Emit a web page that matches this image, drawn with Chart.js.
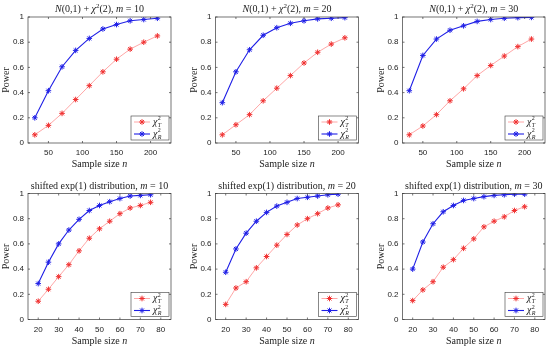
<!DOCTYPE html>
<html>
<head>
<meta charset="utf-8">
<script src="https://cdn.jsdelivr.net/npm/chart.js@4.4.0/dist/chart.umd.min.js"></script>
<style>
    html, body { margin: 0; padding: 0; background: #fff; }
    #fig { position: relative; width: 550px; height: 348px; background: #fff; }
    #fig canvas { position: absolute; left: 0; top: 0; }
</style>
</head>
<body>
<div id="fig">
    <canvas id="c1" width="550" height="348"></canvas>
    <canvas id="c2" width="550" height="348"></canvas>
    <canvas id="c3" width="550" height="348"></canvas>
    <canvas id="c4" width="550" height="348"></canvas>
    <canvas id="c5" width="550" height="348"></canvas>
    <canvas id="c6" width="550" height="348"></canvas>
</div>
<script>
// ============================================
// Datos
// ============================================

// tamaños de muestra
const SIZES_NORMAL = [30, 50, 70, 90, 110, 130, 150, 170, 190, 210];
const SIZES_EXP = [20, 25, 30, 35, 40, 45, 50, 55, 60, 65, 70, 75];

// ticks de los ejes
const XTICKS_NORMAL = [50, 100, 150, 200];
const XTICKS_EXP = [20, 30, 40, 50, 60, 70, 80];
const YTICKS_POWER = [0, 0.2, 0.4, 0.6, 0.8, 1];

// N(0,1) + chi2(2)
const NORMAL_M10_T = [0.065, 0.14, 0.235, 0.345, 0.455, 0.565, 0.665, 0.745, 0.80, 0.85];
const NORMAL_M10_R = [0.20, 0.415, 0.605, 0.735, 0.83, 0.905, 0.94, 0.97, 0.98, 0.99];
const NORMAL_M20_T = [0.065, 0.145, 0.225, 0.335, 0.435, 0.535, 0.635, 0.72, 0.785, 0.835];
const NORMAL_M20_R = [0.32, 0.565, 0.74, 0.855, 0.915, 0.95, 0.97, 0.985, 0.99, 0.995];
const NORMAL_M30_T = [0.065, 0.135, 0.225, 0.335, 0.43, 0.535, 0.615, 0.69, 0.765, 0.825];
const NORMAL_M30_R = [0.415, 0.695, 0.825, 0.895, 0.93, 0.965, 0.98, 0.99, 0.995, 0.997];

// shifted exp(1)
const EXP_M10_T = [0.145, 0.24, 0.34, 0.435, 0.545, 0.645, 0.72, 0.78, 0.84, 0.885, 0.905, 0.93];
const EXP_M10_R = [0.285, 0.455, 0.60, 0.71, 0.795, 0.865, 0.905, 0.935, 0.96, 0.98, 0.985, 0.99];
const EXP_M20_T = [0.12, 0.25, 0.30, 0.41, 0.50, 0.59, 0.675, 0.75, 0.80, 0.84, 0.885, 0.91];
const EXP_M20_R = [0.375, 0.56, 0.685, 0.78, 0.85, 0.90, 0.93, 0.96, 0.97, 0.98, 0.99, 0.995];
const EXP_M30_T = [0.15, 0.235, 0.30, 0.415, 0.475, 0.565, 0.64, 0.735, 0.78, 0.815, 0.865, 0.895];
const EXP_M30_R = [0.40, 0.615, 0.76, 0.855, 0.905, 0.945, 0.96, 0.975, 0.985, 0.99, 0.995, 0.995];

// ============================================
// Estilo y disposición
// ============================================

const COLORS = {
    redLine: 'rgba(255, 60, 60, 0.45)',
    redMark: '#f03030',
    blueLine: '#1f1fe6',
    blueMark: '#1f1fe6',
    axis: '#3a3a3a',
    text: '#222'
};

const SERIF = '"Liberation Serif", "Times New Roman", serif';
const SANS = '"Liberation Sans", Arial, sans-serif';

const FIG_W = 550, FIG_H = 348;
const PLOT_W = 143, PLOT_H = 126;
const Y_AXIS_W = 24, X_AXIS_H = 16;

// ============================================
// Texto con cursiva / superíndice
// ============================================

function partFont(p, size) {
    const s = (p.sup || p.sub) ? size * 0.7 : size;
    return (p.i ? 'italic ' : '') + s + 'px ' + SERIF;
}

function drawRich(ctx, parts, x, y, size) {
    let w = 0;
    parts.forEach(p => { ctx.font = partFont(p, size); p.w = ctx.measureText(p.t).width; w += p.w; });
    let cx = x - w / 2;
    ctx.textAlign = 'left';
    ctx.textBaseline = 'alphabetic';
    parts.forEach(p => {
        ctx.font = partFont(p, size);
        const dy = p.sup ? -size * 0.38 : (p.sub ? size * 0.22 : 0);
        ctx.fillText(p.t, cx, y + dy);
        cx += p.w;
    });
}

// χ con superíndice 2 y subíndice
function drawChiLabel(ctx, sub, x, y) {
    ctx.textAlign = 'left';
    ctx.textBaseline = 'middle';
    ctx.font = 'italic 10px ' + SERIF;
    ctx.fillText('χ', x, y);
    const w = ctx.measureText('χ').width;
    ctx.font = '6px ' + SERIF;
    ctx.fillText('2', x + w + 0.3, y - 3.5);
    ctx.font = 'italic 6px ' + SERIF;
    ctx.fillText(sub, x + w + 0.3, y + 3);
}

// ============================================
// Plugin: caja, ticks internos, títulos y leyenda estilo MATLAB
// ============================================

const matlabAxes = {
    id: 'matlabAxes',
    afterDraw(chart, args, opts) {
        const ctx = chart.ctx;
        const a = chart.chartArea;
        const xs = chart.scales.x, ys = chart.scales.y;
        ctx.save();

        // caja
        ctx.strokeStyle = COLORS.axis;
        ctx.lineWidth = 0.7;
        ctx.strokeRect(a.left, a.top, a.right - a.left, a.bottom - a.top);

        // ticks hacia dentro
        ctx.beginPath();
        xs.ticks.forEach(t => {
            const px = xs.getPixelForValue(t.value);
            ctx.moveTo(px, a.bottom); ctx.lineTo(px, a.bottom - 2);
            ctx.moveTo(px, a.top); ctx.lineTo(px, a.top + 2);
        });
        ys.ticks.forEach(t => {
            const py = ys.getPixelForValue(t.value);
            ctx.moveTo(a.left, py); ctx.lineTo(a.left + 2, py);
            ctx.moveTo(a.right, py); ctx.lineTo(a.right - 2, py);
        });
        ctx.stroke();

        // título
        ctx.fillStyle = COLORS.text;
        const cx = (a.left + a.right) / 2;
        drawRich(ctx, opts.title, cx, a.top - 5, 10);

        // etiqueta eje x
        drawRich(ctx, [{ t: 'Sample size ' }, { t: 'n', i: true }], cx, a.bottom + 24, 10);

        // etiqueta eje y
        ctx.save();
        ctx.translate(a.left - 19, (a.top + a.bottom) / 2);
        ctx.rotate(-Math.PI / 2);
        drawRich(ctx, [{ t: 'Power' }], 0, 0, 10);
        ctx.restore();

        // leyenda
        const lw = 38, lh = 24;
        const lx = a.right - 2 - lw, ly = a.bottom - 3 - lh;
        ctx.fillStyle = '#fff';
        ctx.fillRect(lx, ly, lw, lh);
        ctx.strokeStyle = COLORS.axis;
        ctx.lineWidth = 0.6;
        ctx.strokeRect(lx, ly, lw, lh);

        chart.data.datasets.forEach((ds, i) => {
            const ry = ly + 6 + i * 12;
            ctx.strokeStyle = ds.borderColor;
            ctx.lineWidth = ds.borderWidth;
            ctx.beginPath();
            ctx.moveTo(lx + 3, ry); ctx.lineTo(lx + 19, ry);
            ctx.stroke();
            ctx.strokeStyle = ds.pointBorderColor;
            ctx.lineWidth = 1;
            Chart.helpers.drawPoint(ctx, { pointStyle: 'star', radius: 2.8, rotation: 0, borderWidth: 1 }, lx + 11, ry);
            ctx.fillStyle = COLORS.text;
            drawChiLabel(ctx, ds.subLabel, lx + 22, ry);
        });

        ctx.restore();
    }
};

// ============================================
// Creación de cada subgráfico
// ============================================

function createPowerChart(canvasId, cfg) {
    const ctx = document.getElementById(canvasId);
    if (!ctx) return null;

    const right = cfg.left + PLOT_W;
    const bottom = cfg.top + PLOT_H;

    const pointsOf = values => cfg.sizes.map((n, i) => ({ x: n, y: values[i] }));

    return new Chart(ctx, {
        type: 'line',
        data: {
            datasets: [{
                label: 'T',
                subLabel: 'T',
                data: pointsOf(cfg.t),
                borderColor: COLORS.redLine,
                borderWidth: 1,
                pointStyle: 'star',
                pointRadius: 2.8,
                pointBorderColor: COLORS.redMark,
                pointBorderWidth: 1,
                tension: 0
            }, {
                label: 'R',
                subLabel: 'R',
                data: pointsOf(cfg.r),
                borderColor: COLORS.blueLine,
                borderWidth: 1.1,
                pointStyle: 'star',
                pointRadius: 2.8,
                pointBorderColor: COLORS.blueMark,
                pointBorderWidth: 1,
                tension: 0
            }]
        },
        options: {
            responsive: false,
            animation: false,
            devicePixelRatio: 1,
            layout: {
                padding: {
                    left: cfg.left - Y_AXIS_W,
                    top: cfg.top,
                    right: FIG_W - right,
                    bottom: FIG_H - bottom - X_AXIS_H
                }
            },
            plugins: {
                legend: { display: false },
                title: { display: false },
                tooltip: { enabled: false },
                matlabAxes: { title: cfg.title }
            },
            scales: {
                x: {
                    type: 'linear',
                    min: cfg.xmin,
                    max: cfg.xmax,
                    grid: { display: false, drawTicks: false },
                    border: { display: false },
                    afterBuildTicks: s => { s.ticks = cfg.xticks.map(v => ({ value: v })); },
                    afterFit: s => { s.height = X_AXIS_H; },
                    ticks: { padding: 5, color: COLORS.text, font: { family: SANS, size: 8 }, maxRotation: 0, autoSkip: false }
                },
                y: {
                    type: 'linear',
                    min: 0,
                    max: 1,
                    grid: { display: false, drawTicks: false },
                    border: { display: false },
                    afterBuildTicks: s => { s.ticks = YTICKS_POWER.map(v => ({ value: v })); },
                    afterFit: s => { s.width = Y_AXIS_W; },
                    ticks: { padding: 4, color: COLORS.text, font: { family: SANS, size: 8 }, autoSkip: false, callback: v => String(v) }
                }
            }
        },
        plugins: [matlabAxes]
    });
}

const normalTitle = m => [{ t: 'N', i: true }, { t: '(0,1) + ' }, { t: 'χ', i: true }, { t: '2', sup: true }, { t: '(2), ' }, { t: 'm', i: true }, { t: ' = ' + m }];
const expTitle = m => [{ t: 'shifted exp(1) distribution, ' }, { t: 'm', i: true }, { t: ' = ' + m }];

const COL_LEFT = [28, 215.5, 402.5];
const ROW_TOP = [17, 193.5];

const normalAxis = { sizes: SIZES_NORMAL, xmin: 20, xmax: 230, xticks: XTICKS_NORMAL };
const expAxis = { sizes: SIZES_EXP, xmin: 15, xmax: 85, xticks: XTICKS_EXP };

createPowerChart('c1', Object.assign({ left: COL_LEFT[0], top: ROW_TOP[0], t: NORMAL_M10_T, r: NORMAL_M10_R, title: normalTitle(10) }, normalAxis));
createPowerChart('c2', Object.assign({ left: COL_LEFT[1], top: ROW_TOP[0], t: NORMAL_M20_T, r: NORMAL_M20_R, title: normalTitle(20) }, normalAxis));
createPowerChart('c3', Object.assign({ left: COL_LEFT[2], top: ROW_TOP[0], t: NORMAL_M30_T, r: NORMAL_M30_R, title: normalTitle(30) }, normalAxis));
createPowerChart('c4', Object.assign({ left: COL_LEFT[0], top: ROW_TOP[1], t: EXP_M10_T, r: EXP_M10_R, title: expTitle(10) }, expAxis));
createPowerChart('c5', Object.assign({ left: COL_LEFT[1], top: ROW_TOP[1], t: EXP_M20_T, r: EXP_M20_R, title: expTitle(20) }, expAxis));
createPowerChart('c6', Object.assign({ left: COL_LEFT[2], top: ROW_TOP[1], t: EXP_M30_T, r: EXP_M30_R, title: expTitle(30) }, expAxis));
</script>
</body>
</html>
